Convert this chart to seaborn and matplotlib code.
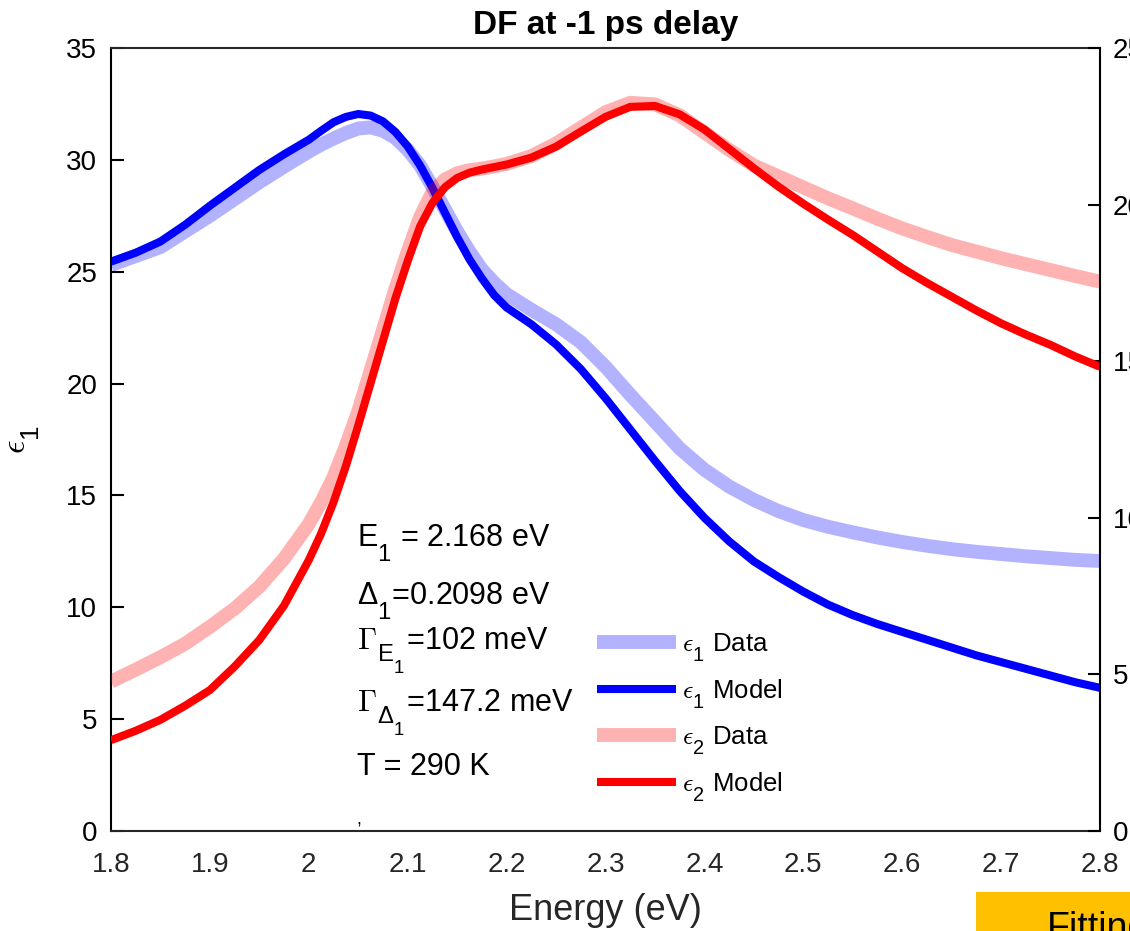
import matplotlib
matplotlib.use("Agg")
import matplotlib.pyplot as plt
import matplotlib._mathtext as mathtext_impl
from matplotlib.patches import Rectangle
import seaborn as sns

# Photon energy grid (eV), denser through the absorption edge
energy = [1.800, 1.825, 1.850, 1.875, 1.900, 1.925, 1.950, 1.975, 2.000,
          2.0125, 2.025, 2.0375, 2.050, 2.0625, 2.075, 2.0875, 2.100,
          2.1125, 2.125, 2.1375, 2.150, 2.1625, 2.175, 2.1875, 2.200,
          2.225, 2.250, 2.275, 2.300, 2.325, 2.350, 2.375, 2.400, 2.425,
          2.450, 2.475, 2.500, 2.525, 2.550, 2.575, 2.600, 2.625, 2.650,
          2.675, 2.700, 2.725, 2.750, 2.775, 2.800]

# Real part of the dielectric function
eps1_data = [25.30, 25.70, 26.10, 26.80, 27.50, 28.25, 29.00, 29.70, 30.37,
             30.68, 30.95, 31.20, 31.40, 31.45, 31.30, 30.98, 30.45,
             29.75, 28.80, 27.80, 26.80, 25.90, 25.10, 24.50, 24.00,
             23.30, 22.65, 21.85, 20.75, 19.50, 18.30, 17.10, 16.15, 15.40,
             14.80, 14.30, 13.90, 13.60, 13.35, 13.12, 12.92, 12.75, 12.60,
             12.48, 12.38, 12.28, 12.20, 12.12, 12.07]
eps1_model = [25.45, 25.85, 26.35, 27.10, 27.95, 28.75, 29.55, 30.25, 30.90,
              31.30, 31.68, 31.92, 32.05, 31.98, 31.72, 31.25, 30.60,
              29.75, 28.75, 27.65, 26.55, 25.55, 24.70, 23.95, 23.40,
              22.65, 21.75, 20.65, 19.35, 17.95, 16.55, 15.20, 14.00, 12.95,
              12.05, 11.35, 10.70, 10.12, 9.65, 9.25, 8.90, 8.55, 8.20,
              7.85, 7.55, 7.25, 6.95, 6.65, 6.40]

# Imaginary part of the dielectric function
eps2_data = [4.77, 5.15, 5.55, 5.98, 6.52, 7.10, 7.80, 8.70, 9.80,
             10.50, 11.30, 12.30, 13.40, 14.70, 16.00, 17.30, 18.50,
             19.60, 20.40, 20.80, 21.00, 21.10, 21.15, 21.22, 21.30,
             21.55, 21.95, 22.45, 22.95, 23.25, 23.20, 22.85, 22.30, 21.75,
             21.25, 20.90, 20.55, 20.20, 19.88, 19.55, 19.24, 18.97, 18.71,
             18.50, 18.29, 18.10, 17.91, 17.72, 17.54]
eps2_model = [2.90, 3.20, 3.55, 4.00, 4.50, 5.25, 6.10, 7.20, 8.65,
              9.50, 10.50, 11.65, 12.95, 14.30, 15.65, 17.00, 18.20,
              19.30, 20.05, 20.55, 20.85, 21.02, 21.12, 21.20, 21.28,
              21.50, 21.85, 22.33, 22.80, 23.12, 23.15, 22.88, 22.40, 21.78,
              21.16, 20.57, 20.03, 19.52, 19.03, 18.50, 17.97, 17.50, 17.06,
              16.62, 16.21, 15.85, 15.52, 15.15, 14.82]

series_labels = [r"$\epsilon_\mathregular{1}$ Data", r"$\epsilon_\mathregular{1}$ Model",
                 r"$\epsilon_\mathregular{2}$ Data", r"$\epsilon_\mathregular{2}$ Model"]

x_ticks = [1.8, 1.9, 2.0, 2.1, 2.2, 2.3, 2.4, 2.5, 2.6, 2.7, 2.8]
x_ticklabels = ["1.8", "1.9", "2", "2.1", "2.2", "2.3", "2.4", "2.5", "2.6", "2.7", "2.8"]
y1_ticks = [0, 5, 10, 15, 20, 25, 30, 35]
y2_ticks = [0, 5, 10, 15, 20, 25]

fit_params = [r"$\mathregular{E_1}$ = 2.168 eV",
              r"$\mathregular{\Delta_1}$=0.2098 eV",
              r"$\Gamma_{\mathregular{E_1}}$=102 meV",
              r"$\Gamma_{\mathregular{\Delta_1}}$=147.2 meV",
              "T = 290 K"]
fit_baselines = [12.71, 10.10, 8.14, 5.34, 2.50]

sns.set_theme(style="white")
plt.rcParams.update({
    "font.family": ["Liberation Sans", "DejaVu Sans"],
    "mathtext.fontset": "cm",
    "text.color": "black",
    "axes.labelcolor": "black",
})

# TeX-style subscripts: a little larger and set well below the baseline
mathtext_impl.SHRINK_FACTOR = 0.78
for cls in [mathtext_impl.FontConstantsBase, *mathtext_impl.FontConstantsBase.__subclasses__()]:
    cls.sub1 = 0.9
mathtext_impl.ComputerModernFontConstants.sub1 = 0.5

fig = plt.figure(figsize=(11.3, 9.31), dpi=100)
ax = fig.add_axes([111 / 1130, 1 - 831 / 931, 989 / 1130, 783 / 931])
ax2 = ax.twinx()

DATA_LW = 10
MODEL_LW = 5.8
line_kw = dict(sort=False, solid_capstyle="butt", solid_joinstyle="round")

sns.lineplot(x=energy, y=eps1_data, ax=ax, color="blue", alpha=0.3,
             linewidth=DATA_LW, label=series_labels[0], **line_kw)
sns.lineplot(x=energy, y=eps1_model, ax=ax, color="blue",
             linewidth=MODEL_LW, label=series_labels[1], **line_kw)
sns.lineplot(x=energy, y=eps2_data, ax=ax2, color="red", alpha=0.3,
             linewidth=DATA_LW, label=series_labels[2], **line_kw)
sns.lineplot(x=energy, y=eps2_model, ax=ax2, color="red",
             linewidth=MODEL_LW, label=series_labels[3], **line_kw)

for a in (ax, ax2):
    if a.get_legend() is not None:
        a.get_legend().remove()

ax.set_xlim(1.8, 2.8)
ax.set_ylim(0, 35)
ax2.set_ylim(0, 25)

ax.set_xticks(x_ticks)
ax.set_xticklabels(x_ticklabels)
ax.set_yticks(y1_ticks)
ax2.set_yticks(y2_ticks)

gray = "#262626"
ax.tick_params(axis="x", direction="in", length=9, width=1.5, colors=gray,
               labelsize=20, pad=15, top=False)
ax.tick_params(axis="y", direction="in", length=9, width=1.5, colors="black",
               labelsize=20, pad=10, right=False)
ax2.tick_params(axis="y", direction="in", length=9, width=1.5, colors="black",
                labelsize=20, pad=9)

for name, sp in ax.spines.items():
    sp.set_linewidth(1.5)
    sp.set_color("black" if name == "left" else gray)
    if name == "right":
        sp.set_visible(False)
for name, sp in ax2.spines.items():
    sp.set_linewidth(1.5)
    sp.set_color("black")
    sp.set_visible(name == "right")

ax.set_title("DF at -1 ps delay", fontsize=24, fontweight="bold", pad=10, color="black")
ax.set_xlabel("Energy (eV)", fontsize=26, color=gray, labelpad=11)
ax.set_ylabel(r"$\epsilon_\mathregular{1}$", fontsize=24, color="black")
ax.yaxis.set_label_coords(-0.070, 0.5)

# Fit parameters
txt_x = 2.0485
for s, y in zip(fit_params, fit_baselines):
    ax.text(txt_x, y, s, fontsize=22, va="baseline", ha="left")

ax.text(2.0485, 0.31, ",", fontsize=13, va="baseline", ha="left")

h1, l1 = ax.get_legend_handles_labels()
h2, l2 = ax2.get_legend_handles_labels()
ax2.legend(h1 + h2, l1 + l2, loc="upper left", bbox_to_anchor=(0.4914, 0.255),
           frameon=False, fontsize=18.5, handlelength=3.07, handletextpad=0.25,
           labelspacing=0.5, borderpad=0, borderaxespad=0)

# Neighbouring panel header peeking in at the lower right
fig.patches.append(Rectangle((976 / 1130, 0), 0.2, (931 - 891.7) / 931,
                             transform=fig.transFigure, facecolor="#FFC000",
                             edgecolor="none", zorder=5))
fig.text(1046.7 / 1130, 0.022, "Fitting", fontsize=27, va="top", ha="left",
         color="black", zorder=6)

fig.savefig("out.png", dpi=100)
